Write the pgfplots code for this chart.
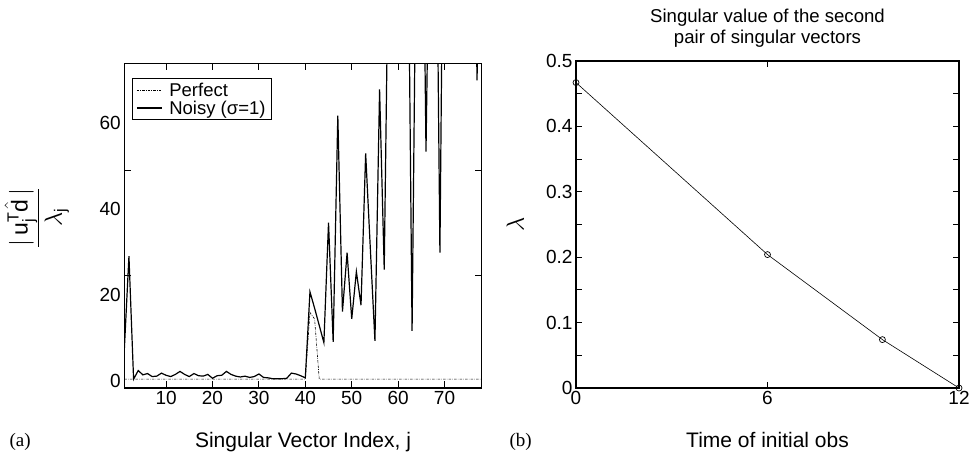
\documentclass[border=0pt]{standalone}
\usepackage{fontspec}
\setmainfont{Liberation Sans}
\setsansfont{Liberation Sans}
\newfontfamily\timesfont{Liberation Serif}
\usepackage{pgfplots}
\usepackage{pgfplotstable}
\pgfplotsset{compat=1.18}

\pgfplotstableread{
j v
1 7.3
2 29.1
3 0.5
4 2.5
5 1.5
6 1.8
7 1.1
8 1.2
9 1.9
10 1.4
11 1.1
12 1.6
13 2.3
14 1.6
15 1.1
16 1.8
17 1.3
18 1.2
19 1.6
20 0.7
21 1.3
22 1.4
23 2.3
24 1.6
25 1.2
26 1.0
27 1.2
28 0.9
29 1.1
30 1.7
31 0.9
32 0.8
33 0.6
34 0.6
35 0.6
36 0.7
37 1.9
38 1.7
39 1.3
40 0.8
41 20.8
42 17.0
43 13.0
44 9.0
45 36.9
46 9.2
47 61.8
48 16.2
49 29.9
50 14.5
51 25.5
52 17.7
53 53.0
54 31.0
55 9.4
56 67.9
57 26.0
58 110
59 130
60 120
61 140
62 125
63 11.7
64 120
65 150
66 53.4
67 130
68 140
69 29.9
70 150
71 140
72 160
73 130
74 150
75 170
76 140
77 70
78 150
}\noisy

\pgfplotstableread{
j v
1 0.5
10 0.5
20 0.5
30 0.5
40 0.5
41 16.0
42 14.5
43 0.5
50 0.5
60 0.5
70 0.5
78 0.5
}\perfect

\pgfplotstableread{
t v
0 0.467
6 0.204
9.6 0.074
12 0
}\sing

\begin{document}
\begin{tikzpicture}
\useasboundingbox (0pt,0pt) rectangle (973pt,451pt);
\begin{axis}[
  at={(124.3pt,63pt)}, anchor=south west,
  scale only axis, width=357.4pt, height=324.7pt,
  xmin=1, xmax=78, ymin=-1.56, ymax=73.95,
  axis line style={line width=1.1pt},
  tick pos=both, tick align=inside,
  major tick length=7pt,
  every tick/.style={line width=0.9pt, black},
  xtick={10,20,30,40,50,60,70},
  ytick={24.7,49.1}, yticklabels={},
  extra y ticks={0,20,40,60},
  extra y tick style={major tick length=0pt},
  /pgf/number format/assume math mode=true,
  ticklabel style={font=\fontsize{19}{19}\selectfont},
  xlabel={Singular Vector Index, j},
  xlabel style={at={(axis description cs:0.5,0)}, anchor=base, yshift=-59pt, font=\fontsize{21}{21}\selectfont},
  ylabel={$\displaystyle\frac{|\,\mathsf{u}_{\mathsf{j}}^{\mathsf{T}}\hat{\mathsf{d}}\,|}{\lambda_{\mathsf{j}}}$},
  ylabel style={at={(axis description cs:-0.245,0.525)}, anchor=center, font=\fontsize{23}{23}\selectfont},
  legend style={at={(axis description cs:0.0207,0.9538)}, anchor=north west, draw=black, line width=0.9pt,
    font=\fontsize{18.5}{20}\selectfont, inner xsep=4pt, inner ysep=2pt, row sep=-1pt,
    cells={anchor=west}, /tikz/every odd column/.append style={column sep=5pt}},
  legend image code/.code={\draw[#1] (0pt,0pt) -- (25pt,0pt);},
]
\addplot[black, line width=0.6pt, dash pattern=on 2.5pt off 1.2pt on 0.6pt off 1.2pt] table[x=j,y=v] {\perfect};
\addlegendentry{Perfect}
\addplot[black, line width=1.2pt, line join=miter] table[x=j,y=v] {\noisy};
\addlegendentry{Noisy (σ=1)}
\end{axis}

\begin{axis}[
  at={(576pt,63pt)}, anchor=south west,
  scale only axis, width=383pt, height=327pt,
  xmin=0, xmax=12, ymin=0, ymax=0.5,
  axis line style={line width=1.1pt},
  tick pos=both, tick align=inside,
  major tick length=6pt, minor tick length=6pt,
  every tick/.style={line width=0.9pt, black},
  xtick={0,6,12},
  ytick={0,0.1,0.2,0.3,0.4,0.5},
  minor ytick={0.05,0.15,0.25,0.35,0.45},
  yticklabel style={/pgf/number format/fixed, /pgf/number format/precision=1},
  /pgf/number format/assume math mode=true,
  ticklabel style={font=\fontsize{19}{19}\selectfont},
  xlabel={Time of initial obs},
  xlabel style={at={(axis description cs:0.5,0)}, anchor=base, yshift=-59pt, font=\fontsize{21}{21}\selectfont},
  ylabel={$\lambda$},
  ylabel style={at={(axis description cs:-0.159,0.5)}, anchor=center, font=\fontsize{23}{23}\selectfont},
  title={Singular value of the second\\pair of singular vectors},
  title style={align=center, font=\fontsize{18.6}{21}\selectfont, at={(axis description cs:0.5,1)}, anchor=south, inner sep=0pt, yshift=7pt},
  clip=false,
]
\addplot[black, line width=0.6pt, mark=o, mark size=3pt, mark options={line width=0.7pt}] table[x=t,y=v] {\sing};
\end{axis}

\node[anchor=base west, font=\timesfont\fontsize{19}{19}\selectfont] at (6pt,5pt) {(a)};
\node[anchor=base west, font=\timesfont\fontsize{19}{19}\selectfont] at (506pt,5pt) {(b)};
\end{tikzpicture}
\end{document}
